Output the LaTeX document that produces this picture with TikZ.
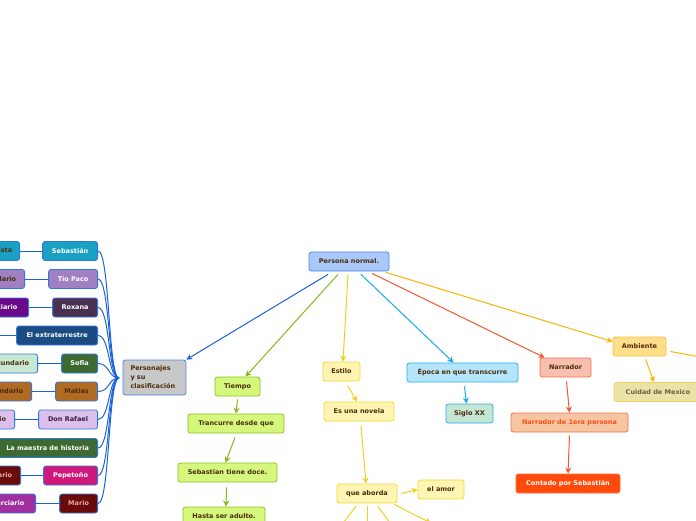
\documentclass[tikz,border=0pt]{standalone}
\usepackage{fontspec}
\setmainfont{DejaVu Sans}
\usetikzlibrary{arrows.meta}
\definecolor{txt}{HTML}{4A2C0C}
\definecolor{cblue}{HTML}{1A62D8}
\definecolor{cgreen}{HTML}{86B81A}
\definecolor{cyel}{HTML}{ECD21E}
\definecolor{clblue}{HTML}{14A9EA}
\definecolor{cred}{HTML}{F2562E}
\definecolor{camber}{HTML}{F8B400}
\definecolor{bblue}{HTML}{2F78E0}
\definecolor{rootfill}{HTML}{A9C9FA}
\definecolor{rootdraw}{HTML}{4C86E6}
\definecolor{greyfill}{HTML}{C8C8C8}
\definecolor{teal}{HTML}{1AA0C2}
\definecolor{lav}{HTML}{A07FC2}
\definecolor{dpurp}{HTML}{4A3050}
\definecolor{navy}{HTML}{1C4A82}
\definecolor{dgreen}{HTML}{3C6A30}
\definecolor{brown}{HTML}{B06A22}
\definecolor{llav}{HTML}{DCC0EC}
\definecolor{lavtxt}{HTML}{3A1A40}
\definecolor{magenta}{HTML}{D0187A}
\definecolor{maroon}{HTML}{6A0A0A}
\definecolor{pinktxt}{HTML}{E8A8A8}
\definecolor{purple}{HTML}{6A0A8A}
\definecolor{mint}{HTML}{C8E8D2}
\definecolor{mpurp}{HTML}{A030A0}
\definecolor{tfill}{HTML}{D5F77E}
\definecolor{tdraw}{HTML}{8CC222}
\definecolor{efill}{HTML}{FFF5B3}
\definecolor{edraw}{HTML}{EFD838}
\definecolor{pfill}{HTML}{B5E5FB}
\definecolor{pdraw}{HTML}{22B0EC}
\definecolor{sfill}{HTML}{C4E6D2}
\definecolor{nfill}{HTML}{F8BFAE}
\definecolor{ndraw}{HTML}{F2704E}
\definecolor{n1fill}{HTML}{F6C6A2}
\definecolor{n1txt}{HTML}{FF4D12}
\definecolor{n2fill}{HTML}{FF4A0C}
\definecolor{n2draw}{HTML}{FF6A30}
\definecolor{afill}{HTML}{FFDE8A}
\definecolor{adraw}{HTML}{F8C040}
\definecolor{cfill}{HTML}{EBE3A6}
\definecolor{cdraw}{HTML}{F3D45A}
\definecolor{ctxt}{HTML}{6D5E40}
\tikzset{
  box/.style={draw, rounded corners=2.5pt, line width=0.8pt, inner sep=0pt,
    font=\bfseries\fontsize{6.5}{9}\selectfont, align=center, text=txt, minimum height=19pt},
  lbox/.style={box, draw=bblue, anchor=east},
  arr/.style={line width=1pt, -{Stealth[length=6pt,width=6pt]}},
  con/.style={line width=1pt},
  tbox/.style={box, fill=tfill, draw=tdraw},
  ebox/.style={box, fill=efill, draw=edraw},
}
\begin{document}
\begin{tikzpicture}[x=1pt,y=-1pt]
\useasboundingbox (0,0) rectangle (696,520);
% root
\node[box, fill=rootfill, draw=rootdraw, minimum width=80] (root) at (349,261.5) {Persona normal.};
% personajes
\node[box, fill=greyfill, draw=rootdraw, minimum width=63, minimum height=35, text width=48, align=left] (pj) at (154.5,377.5) {Personajes\\y su\\clasificación};
% left column
\node[lbox, fill=teal, text=white, minimum width=55] (l1) at (98,251) {Sebastián};
\node[lbox, fill=lav, text=white, minimum width=49] (l2) at (98,279) {Tío Paco};
\node[lbox, fill=dpurp, text=white, minimum width=45] (l3) at (98,307.5) {Roxana};
\node[lbox, fill=navy, text=white, minimum width=81] (l4) at (98,335.5) {El extraterrestre};
\node[lbox, fill=dgreen, text=white, minimum width=36] (l5) at (98,363.5) {Sofia};
\node[lbox, fill=brown, minimum width=42] (l6) at (98,391.5) {Matias};
\node[lbox, fill=llav, text=lavtxt, minimum width=59] (l7) at (98,419.5) {Don Rafael};
\node[lbox, fill=dgreen, text=white, minimum width=100] (l8) at (98,448) {La maestra de historia};
\node[lbox, fill=magenta, text=white, minimum width=54] (l9) at (98,475.5) {Pepetoño};
\node[lbox, fill=maroon, text=pinktxt, minimum width=38] (l10) at (98,503.5) {Mario};
% far left (clipped)
\node[lbox, fill=teal, minimum width=62] (f1) at (20,251) {Protagonista};
\node[lbox, fill=lav, minimum width=58] (f2) at (25,279) {Secundario};
\node[lbox, fill=purple, text=white, minimum width=54] (f3) at (29,307.5) {Terciario};
\coordinate (f4) at (-2,335.5);
\node[lbox, fill=mint, minimum width=58] (f5) at (38,363.5) {Secundario};
\node[lbox, fill=brown, minimum width=58] (f6) at (32,391.5) {Secundario};
\node[lbox, fill=llav, minimum width=58] (f7) at (15,419.5) {Secundario};
\node[lbox, fill=maroon, text=pinktxt, minimum width=58] (f9) at (21,475.5) {Secundario};
\node[lbox, fill=mpurp, text=white, minimum width=54] (f10) at (36,503.5) {Terciario};
% tiempo chain
\node[tbox, minimum width=45] (t0) at (237.5,386.5) {Tiempo};
\node[tbox, minimum width=96] (t1) at (236,423.5) {Trancurre desde que};
\node[tbox, minimum width=99] (t2) at (227.5,472.5) {Sebastian tiene doce.};
\node[tbox, minimum width=82] (t3) at (224,516.5) {Hasta ser adulto.};
% estilo chain
\node[ebox, minimum width=37] (e0) at (341.5,371.5) {Estilo};
\node[ebox, minimum width=70] (e1) at (359,411.5) {Es una novela};
\node[ebox, minimum width=60] (e2) at (367,493.5) {que aborda};
\node[ebox, minimum width=46] (e3) at (441,489.5) {el amor};
\coordinate (e4) at (343,523);
\coordinate (e5) at (367,523);
\coordinate (e6) at (390,523);
\coordinate (e7) at (431,523);
% epoca
\node[box, fill=pfill, draw=pdraw, minimum width=111] (p0) at (462.5,372.5) {Época en que transcurre};
\node[box, fill=sfill, draw=pdraw, minimum width=47] (p1) at (469.5,413.5) {Siglo XX};
% narrador
\node[box, fill=nfill, draw=ndraw, minimum width=51] (n0) at (565.5,367.5) {Narrador};
\node[box, fill=n1fill, draw=ndraw, text=n1txt, minimum width=117] (n1) at (569.5,422.5) {Narrador de 1era persona};
\node[box, fill=n2fill, draw=n2draw, text=white, minimum width=104] (n2) at (568,483.5) {Contado por Sebastián};
% ambiente
\node[box, fill=afill, draw=adraw, minimum width=53] (a0) at (639.5,346.5) {Ambiente};
\node[box, fill=cfill, draw=cdraw, text=ctxt, minimum width=88] (a1) at (658,392) {Cuidad de Mexico};
\coordinate (a2) at (700,357);
% connectors from root
\draw[arr, cblue] ([xshift=-21pt,yshift=-3pt]root.south) -- (pj.north east);
\draw[arr, cgreen] ([xshift=-11pt,yshift=-3pt]root.south) -- ([xshift=8pt]t0.north);
\draw[arr, cyel] ([xshift=-1pt,yshift=-3pt]root.south) -- ([xshift=1.5pt]e0.north);
\draw[arr, clblue] ([xshift=12pt,yshift=-3pt]root.south) -- ([xshift=-9pt]p0.north);
\draw[arr, cred] ([xshift=23pt,yshift=-2pt]root.south) -- ([xshift=5pt]n0.north west);
\draw[arr, camber] ([xshift=37pt,yshift=-1pt]root.south) -- ([yshift=5pt]a0.west);
% personajes fan
\foreach \n in {l1,l2,l3,l4,l5,l6,l7,l8,l9,l10}
  \draw[con, cblue] (119,378) .. controls (108,378) and (110,0|-\n.east) .. (\n.east);
\foreach \a/\b in {l1/f1,l2/f2,l3/f3,l5/f5,l6/f6,l7/f7,l9/f9,l10/f10}
  \draw[con, cblue] (\a.west) -- (\b.east);
\draw[con, cblue] (l4.west) -- (f4);
% tiempo chain
\draw[arr, cgreen] ([yshift=-3pt]t0.south) -- (t1.north);
\draw[arr, cgreen] ([xshift=-1pt,yshift=-4pt]t1.south) -- ([xshift=-2pt]t2.north);
\draw[arr, cgreen] ([xshift=-1pt,yshift=-5pt]t2.south) -- ([xshift=2pt]t3.north);
% estilo chain
\draw[arr, cyel] ([xshift=6pt,yshift=-4pt]e0.south) -- ([xshift=-2pt]e1.north);
\draw[arr, cyel] ([xshift=2pt,yshift=-4pt]e1.south) -- ([xshift=-1pt]e2.north);
\draw[arr, cyel] ([xshift=4pt]e2.east) -- (e3.west);
\draw[con, cyel] ([xshift=-11pt,yshift=-3pt]e2.south) -- (e4);
\draw[con, cyel] ([xshift=0pt,yshift=-3pt]e2.south) -- (e5);
\draw[con, cyel] ([xshift=11pt,yshift=-3pt]e2.south) -- (e6);
\draw[arr, cyel] ([xshift=27pt,yshift=-1pt]e2.south) -- (e7);
% epoca
\draw[arr, clblue] ([xshift=2pt,yshift=-4pt]p0.south) -- ([xshift=-3pt]p1.north);
% narrador
\draw[arr, cred] ([xshift=1pt,yshift=-4pt]n0.south) -- (n1.north);
\draw[arr, cred] ([yshift=-3pt]n1.south) -- (n2.north);
% ambiente
\draw[arr, camber] ([xshift=6pt,yshift=-3pt]a0.south) -- ([xshift=-4pt]a1.north);
\draw[con, camber] ([xshift=4pt,yshift=-5pt]a0.east) -- (a2);
\end{tikzpicture}
\end{document}
